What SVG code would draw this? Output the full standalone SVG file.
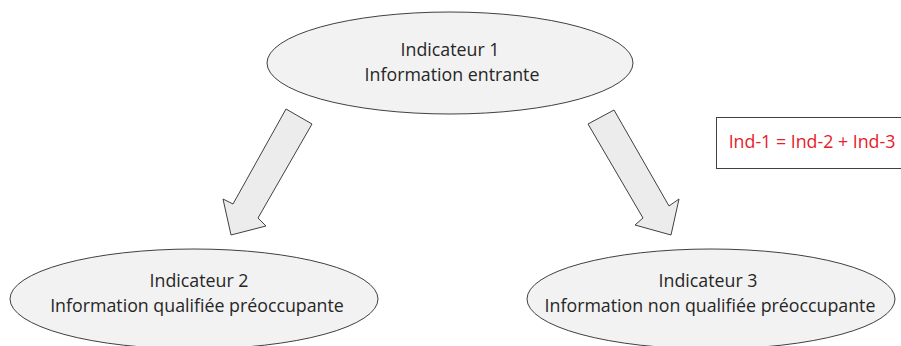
<svg xmlns="http://www.w3.org/2000/svg" width="901" height="346" viewBox="0 0 901 346">
<style>
.node ellipse{fill:#f2f2f2;stroke:#404040;stroke-width:1}
.lbl{font-family:"Open Sans","Liberation Sans",sans-serif;font-size:17.8px;fill:#262626;text-anchor:middle}
.arrow{fill:#ececec;stroke:#404040;stroke-width:1;stroke-linejoin:miter}
.red{font-family:"Open Sans","Liberation Sans",sans-serif;font-size:17.8px;fill:#e8202a;text-anchor:middle}
</style>
<rect width="901" height="346" fill="#ffffff"/>
<g id="ind1" class="node">
<ellipse cx="450" cy="63" rx="183" ry="51"/>
<text class="lbl" x="450" y="56">Indicateur 1</text>
<text class="lbl" x="452" y="81">Information entrante</text>
</g>
<g id="ind2" class="node">
<ellipse cx="194" cy="299" rx="184" ry="50"/>
<text class="lbl" x="199" y="287">Indicateur 2</text>
<text class="lbl" x="197" y="312">Information qualifiée préoccupante</text>
</g>
<g id="ind3" class="node">
<ellipse cx="711" cy="299" rx="184" ry="50"/>
<text class="lbl" x="708" y="287">Indicateur 3</text>
<text class="lbl" x="710" y="312">Information non qualifiée préoccupante</text>
</g>
<g id="formula">
<rect x="716.5" y="117.5" width="200" height="51" fill="#ffffff" stroke="#404040" stroke-width="1"/>
<text class="red" x="812" y="148">Ind-1 = Ind-2 + Ind-3</text>
</g>
<g id="connectors">
<polygon class="arrow" points="286,109 312,124 258,218 266,226 231,235 223,199 233,204"/>
<polygon class="arrow" points="588,124 614,110 669,206 679,199 671,235 635,225 643,218"/>
</g>
</svg>
